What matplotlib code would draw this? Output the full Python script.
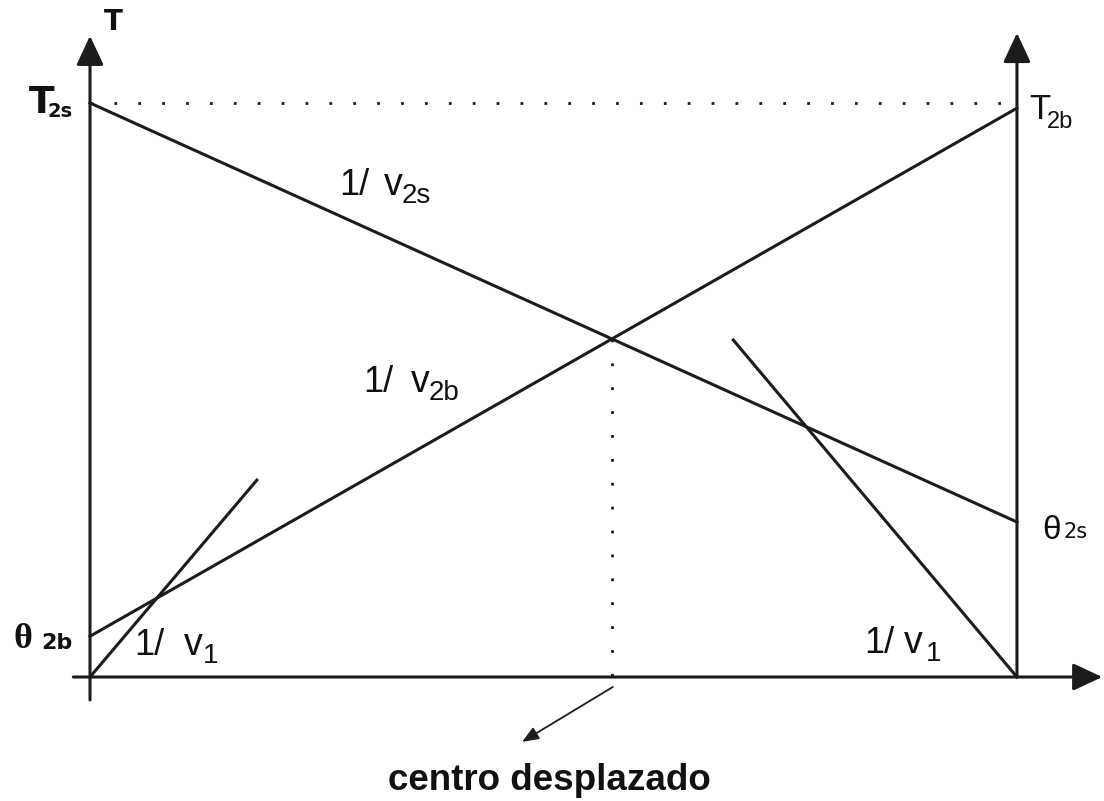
import numpy as np
import matplotlib
matplotlib.use("Agg")
import matplotlib.pyplot as plt

plt.rcParams['font.family'] = ['Liberation Sans', 'DejaVu Sans']

# distancia (m) y tiempos (ms) del domocrónico
x_ini, x_fin = 0.0, 100.0
T2s = 100.0      # intercepto lado izquierdo (tiempo total)
T2b = 99.1       # intercepto lado derecho
th2s = 27.0      # tiempo en el geofono derecho
th2b = 7.1       # tiempo en el geofono izquierdo
v1_izq = [0.0, 18.0], [0.0, 34.3]     # directa desde el tiro izquierdo
v1_der = [69.4, 100.0], [58.7, 0.0]   # directa hacia el tiro derecho

c = '#1c1c1c'
tc_ = '#111111'
fig = plt.figure(figsize=(11.04, 8.01), dpi=100)
ax = fig.add_axes([0, 0, 1, 1])
ax.set_xlim(-9.71, 109.39)
ax.set_ylim(-21.6, 117.94)
ax.axis('off')

def flecha(a, b, lw=2.2, hl=0.9, hw=0.42):
    ax.annotate('', xy=b, xytext=a,
                arrowprops=dict(arrowstyle='-|>,head_length=%s,head_width=%s' % (hl, hw),
                                lw=lw, color=c, shrinkA=0, shrinkB=0, mutation_scale=20))

# ejes
flecha((0, -4.0), (0, 111.7))
flecha((100, 0), (100, 112.2))
flecha((-1.8, 0), (109.2, 0))

# rectas de tiempo
ax.plot([x_ini, x_fin], [T2s, th2s], color=c, lw=2.2)
ax.plot([x_ini, x_fin], [th2b, T2b], color=c, lw=2.2)
ax.plot(*v1_izq, color=c, lw=2.2)
ax.plot(*v1_der, color=c, lw=2.2)

# punteadas: tiempo total y centro desplazado
m1 = (th2s - T2s) / (x_fin - x_ini)
m2 = (T2b - th2b) / (x_fin - x_ini)
xc = (th2b - T2s) / (m1 - m2)
tc = T2s + m1 * xc
ax.plot([x_ini, x_fin], [T2s, T2s], color=c, lw=2, ls=(0, (1, 7.6)))
ax.plot([xc, xc], [tc, 0], color=c, lw=2, ls=(0, (1, 7.6)))

# etiquetas
def lab(xy, s, off, size, ha='left', va='center', weight='normal', fam=None):
    ax.annotate(s, xy=xy, xytext=off, textcoords='offset pixels',
                ha=ha, va=va, fontsize=size, fontweight=weight, color=tc_,
                family=fam if fam else ['Liberation Sans', 'DejaVu Sans'])

lab((0, 111.7), 'T', (23, 14), 20, ha='center', weight='bold', fam='DejaVu Sans')
lab((0, T2s), 'T', (-36, 0), 27, ha='right', weight='bold', fam='DejaVu Sans')
lab((0, T2s), '2s', (-17, -9), 14, ha='right', weight='bold', fam='DejaVu Sans')
lab((100, T2b), 'T', (12, -1), 25)
lab((100, T2b), '2b', (30, -14), 17)
lab((100, th2s), 'θ', (25, -8), 24)
lab((100, th2s), '2s', (47, -10), 15, fam='DejaVu Sans')
lab((0, th2b), 'θ', (-58, -3), 26, ha='right', weight='bold', fam='Liberation Serif')
lab((0, th2b), '2b', (-18, -7), 16, ha='right', weight='bold', fam='DejaVu Sans')

# rótulos de pendiente: "1/", "v" y subíndice
def vlab(x, T, sub, dv, ds):
    ax.annotate('1/', (x, T), xytext=(0, 0), textcoords='offset pixels',
                fontsize=26, va='baseline', color=tc_)
    ax.annotate('v', (x, T), xytext=(dv, 0), textcoords='offset pixels',
                fontsize=27, va='baseline', color=tc_)
    ax.annotate(sub, (x, T), xytext=(ds, -8), textcoords='offset pixels',
                fontsize=20, va='baseline', color=tc_)

vlab(26.86, 83.97, '2s', 45, 63)
vlab(29.45, 49.65, '2b', 48, 66)
vlab(4.75, 3.83, '1', 50, 69)
vlab(83.5, 4.18, '1', 40, 62)

flecha((56.4, -1.74), (46.6, -11.3), lw=1.3, hl=0.5, hw=0.2)
ax.text(49.6, -19.7, 'centro desplazado', fontsize=26.5, fontweight='bold',
        ha='center', va='baseline', color=tc_)

fig.savefig('out.png', dpi=100)
